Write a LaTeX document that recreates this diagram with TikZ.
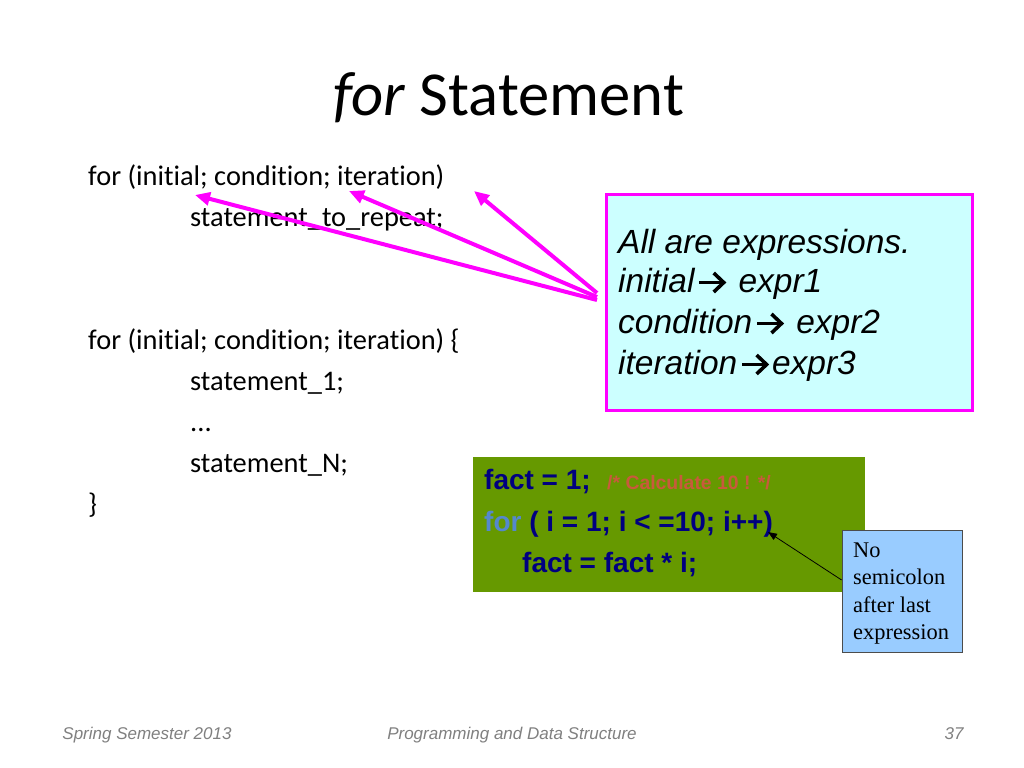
\documentclass[tikz,border=0pt]{standalone}
\usepackage{fontspec}
\setmainfont{Carlito}[Ligatures={NoCommon,NoContextual}]
\newfontfamily\arialf{Liberation Sans}
\newfontfamily\serift{Liberation Serif}
\usetikzlibrary{arrows.meta}
\newcommand{\rarr}{\hspace{3bp}\tikz[baseline={(0pt,-9.5bp)}]{\draw[line width=3.6bp, -{Straight Barb[length=10bp,width=19bp,line width=3.6bp]}] (0pt,0pt) -- (27bp,0pt);}\hspace{1bp}}
\definecolor{magentaA}{RGB}{255,0,255}
\definecolor{cyanfill}{RGB}{204,255,255}
\definecolor{greenfill}{RGB}{102,153,0}
\definecolor{navyA}{RGB}{0,0,128}
\definecolor{forblue}{RGB}{85,136,204}
\definecolor{commentc}{RGB}{200,90,60}
\definecolor{notefill}{RGB}{153,204,255}
\definecolor{footgray}{RGB}{128,128,128}
\tikzset{
  body/.style={anchor=base west, inner sep=0pt, font=\fontsize{28.4bp}{34bp}\selectfont},
  boxtext/.style={anchor=base west, inner sep=0pt, font=\arialf\itshape\fontsize{33.5bp}{40bp}\selectfont},
  code/.style={anchor=base west, inner sep=0pt, font=\arialf\bfseries\fontsize{28bp}{34bp}\selectfont, text=navyA},
  notetext/.style={anchor=base west, inner sep=0pt, font=\serift\fontsize{22.4bp}{27bp}\selectfont},
  foot/.style={anchor=base, inner sep=0pt, font=\arialf\itshape\fontsize{17bp}{20bp}\selectfont, text=footgray},
  pinkarrow/.style={magentaA, line width=4bp, -{Triangle[length=15bp,width=13bp]}},
}
\begin{document}
\begin{tikzpicture}[x=1bp,y=-1bp]
\useasboundingbox[fill=white] (0,0) rectangle (1024,768);

% title
\node[anchor=base west, inner sep=0pt, font=\fontsize{62.6bp}{70bp}\selectfont] (title) at (333,115) {\textit{for} Statement};

% left text
\node[body] (l1) at (88,185) {for (initial; condition; iteration)};
\node[body] (l2) at (190,226) {statement\_to\_repeat;};
\node[body] (l3) at (88,349) {for (initial; condition; iteration) \{};
\node[body] (l4) at (190,390) {statement\_1;};
\node[body] (l5) at (190,431) {...};
\node[body] (l6) at (190,472) {statement\_N;};
\node[body] (l7) at (88,513) {\}};

% pink box
\draw[magentaA, line width=3bp, fill=cyanfill] (606,194) rectangle (972,410);
\node[boxtext] (b1) at (618,253) {All are expressions.};
\node[boxtext] (b2) at (618,292) {initial\rarr{} expr1};
\node[boxtext] (b3) at (618,333) {condition\rarr{} expr2};
\node[boxtext] (b4) at (618,374) {iteration\rarr{}expr3};

% pink arrows
\coordinate (s1) at (597,300);
\coordinate (s2) at (597,297);
\coordinate (s3) at (597,293);
\coordinate (t1) at (195,195);
\coordinate (t2) at (349,191);
\coordinate (t3) at (474,191);
\draw[pinkarrow] (s1) -- (t1);
\draw[pinkarrow] (s2) -- (t2);
\draw[pinkarrow] (s3) -- (t3);

% green box
\fill[greenfill] (473,457) rectangle (865,592);
\node[code] (c1) at (484,489) {fact = 1;};
\node[anchor=base west, inner sep=0pt, font=\arialf\bfseries\fontsize{19.4bp}{22bp}\selectfont, text=commentc] (cm) at (607,489) {/* Calculate 10 ! */};
\node[code] (c2) at (484,531) {\textcolor{forblue}{for} ( i = 1; i < =10; i++)};
\node[code] (c3) at (522,572) {fact = fact * i;};

% note box
\node[draw=black!70, line width=0.8bp, fill=notefill, minimum width=120bp, minimum height=122bp, inner sep=0pt] (note) at (902,591) {};
\node[notetext] (n1) at (853,557) {No};
\node[notetext] (n2) at (853,584) {semicolon};
\node[notetext] (n3) at (853,612) {after last};
\node[notetext] (n4) at (853,639) {expression};
\coordinate (ntip) at (768,532);
\draw[black, line width=0.8bp, -{Triangle[length=9bp,width=7bp]}] (note.west |- 0,580) -- (ntip);

% footer
\node[foot] (f1) at (147,739) {Spring Semester 2013};
\node[foot] (f2) at (512,739) {Programming and Data Structure};
\node[foot] (f3) at (954,739) {37};
\end{tikzpicture}
\end{document}
